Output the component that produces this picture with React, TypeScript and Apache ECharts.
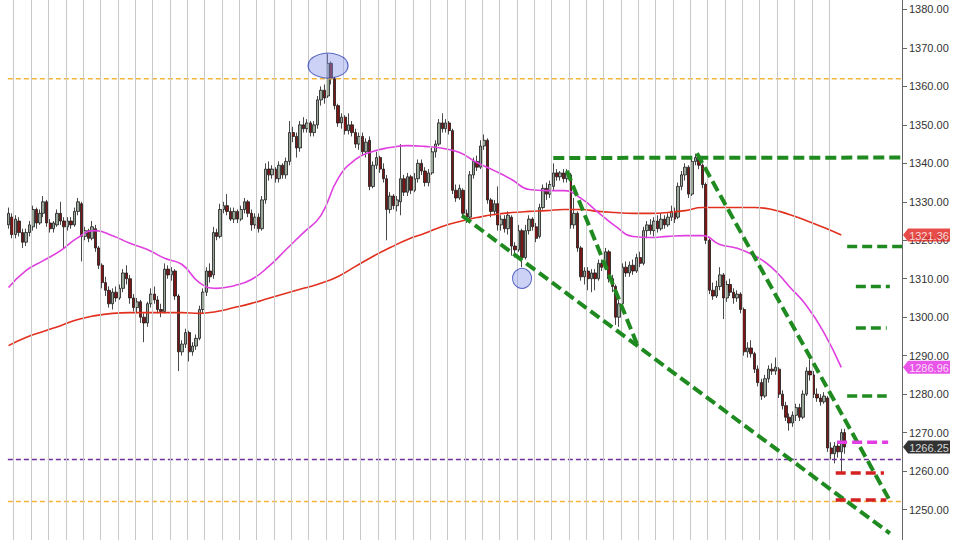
import React, { useEffect, useRef } from "react";
import * as echarts from "echarts";

// ---------- data ----------
const TOTAL_SLOTS = 258; // candle slots incl. empty space before the price axis
const categories = Array.from({ length: TOTAL_SLOTS }, (_, i) => `bar${i}`);

// [open, close, low, high]
const candles: number[][] = [
  [1324,1327,1323,1328.5],[1326,1321.5,1320.5,1327],[1321.5,1325.5,1320.5,1326.5],[1325,1322,1321,1326],[1322,1319.5,1318,1323],
  [1319.5,1322,1318.5,1323],[1322,1324,1321,1325],[1323.5,1328,1322.5,1329],[1328,1324.5,1323,1328.5],[1324.5,1327,1324,1328],
  [1327,1330,1326,1331.5],[1330,1324.5,1323.5,1330.5],[1324.5,1323,1322,1325.5],[1323,1324.5,1322,1325],[1324,1327,1323.5,1328],
  [1327,1325,1324,1330],[1325,1323.5,1318,1326],[1323.5,1325,1322.5,1326],[1325,1324,1323,1326],[1324,1327.5,1323.5,1328.5],
  [1327.5,1330,1326.5,1331],[1329.5,1321,1314.5,1330],[1321,1322.5,1320,1323.5],[1322.5,1320.5,1319.5,1323],[1320.5,1323.5,1320,1325],
  [1323,1318,1317,1324],[1318,1313.5,1312.5,1318.5],[1313.5,1309,1307.5,1314],[1309,1307,1305.5,1310.5],[1307,1303.5,1302.5,1308],
  [1303.5,1306.5,1302,1307.5],[1306.5,1305,1304,1308],[1305,1307.5,1304.5,1308.5],[1307.5,1311.5,1306.5,1312.5],[1311.5,1310,1308.5,1313.5],
  [1310,1305,1303.5,1311],[1305,1302.5,1301.5,1306],[1302.5,1304,1301,1305],[1304,1300,1298.5,1304.5],[1300,1298.5,1293.5,1301],
  [1298.5,1303.5,1297.5,1304],[1303.5,1306,1302.5,1307.5],[1306,1304.5,1303.5,1308],[1304.5,1302,1301,1305.5],[1302,1301.5,1300,1303.5],
  [1301.5,1312.5,1301,1314],[1312.5,1311,1310,1313.5],[1311,1312,1309.5,1313],[1312,1305.5,1304.5,1312.5],[1305.5,1291,1286,1306],
  [1291,1293,1290,1294],[1293,1296,1292,1297],[1296,1291,1288.5,1296.5],[1291,1292.5,1290,1293.5],[1292.5,1294.5,1291.5,1295.5],
  [1294.5,1302,1294,1303],[1302,1306.5,1301,1307.5],[1306.5,1312,1305.5,1313],[1312,1310.5,1309,1314],[1311,1322,1310,1323.5],
  [1322,1321,1320,1323],[1321,1328,1320.5,1329.5],[1328,1329,1327,1330],[1329,1327.5,1326.5,1332],[1327.5,1325.5,1325,1328.5],
  [1325.5,1327.5,1324.5,1328.5],[1327.5,1325.5,1324.5,1328],[1325.5,1328,1325,1329],[1328,1330,1327,1331],[1330,1327,1326,1330.5],
  [1327,1324,1322.5,1328],[1324,1326,1323,1327],[1326,1323,1322,1327],[1323,1330.5,1322.5,1331.5],[1330.5,1338.5,1329.5,1340],
  [1338.5,1337,1335.5,1340.5],[1337,1338.5,1336,1339.5],[1338.5,1336,1335,1339],[1336,1339.5,1335,1340.5],[1339.5,1337,1336,1340],
  [1337,1340.5,1336,1341.5],[1340.5,1348,1339.5,1351],[1348,1347,1345.5,1349.5],[1347,1344,1341.5,1348],[1344,1350,1343,1351],
  [1350,1349,1348,1352],[1349,1350.5,1348,1351.5],[1350.5,1348,1347,1351],[1348,1350,1347,1351],[1350,1356.5,1349,1357.5],
  [1356.5,1359,1355,1360],[1359,1357,1355.5,1360.5],[1357.5,1366,1357,1368.5],[1366,1362,1360.5,1366.5],[1362,1355,1354,1362.5],
  [1355,1350.5,1349.5,1355.5],[1350.5,1352,1349,1353],[1352,1348.5,1347.5,1352.5],[1348.5,1350,1347.5,1353],[1350,1348,1347,1351],
  [1348,1345,1344,1349],[1345,1347,1343.5,1348],[1347,1343,1342,1348],[1343,1345.5,1341.5,1346.5],[1346,1334,1333,1347],
  [1334,1339.5,1333.5,1340.5],[1339.5,1341.5,1338.5,1343],[1341.5,1338.5,1337.5,1342],[1338.5,1336,1335,1340],[1336,1328,1320,1337],
  [1328,1331.5,1327,1332.5],[1331.5,1329,1328,1332],[1329,1330.5,1327.5,1331.5],[1330,1336,1326.5,1345],[1336,1332.5,1331.5,1337],
  [1332.5,1336.5,1331.5,1337.5],[1336.5,1333,1332,1337],[1333,1336,1332.5,1337.5],[1336,1340,1335,1341],[1340,1338,1337,1341],
  [1338,1335,1334,1339],[1335,1337.5,1334,1338.5],[1337.5,1343,1337,1344],[1343,1345,1341.5,1346],[1345,1350.5,1344.5,1351.5],
  [1350.5,1349,1348,1353],[1349,1350.5,1348,1351.5],[1350.5,1348.5,1347.5,1351],[1348.5,1333,1332,1349],[1333,1331,1330,1334.5],
  [1331,1333.5,1330.5,1334.5],[1333,1327,1326,1333.5],[1327,1326,1324.5,1328],[1326,1337,1325.5,1338],[1337,1340.5,1336,1341.5],
  [1340.5,1339,1338,1342],[1339,1344.5,1338.5,1346],[1344.5,1346,1343.5,1347.5],[1346,1330.5,1329.5,1346.5],[1330.5,1327.5,1326,1331],
  [1327.5,1329.5,1326.5,1330.5],[1329.5,1324,1322.5,1334],[1324,1325.5,1322.5,1326.5],[1325.5,1323,1322,1326.5],[1323,1326.5,1321.5,1327.5],
  [1326,1318.5,1316,1326.5],[1318.5,1317.5,1315.5,1319.5],[1317.5,1322.5,1317,1324],[1322.5,1315.5,1313,1323],[1315.5,1322.5,1315,1324],
  [1322.5,1325.5,1321.5,1326.5],[1325.5,1323.5,1322.5,1326],[1323.5,1320.5,1319.5,1324.5],[1321,1328.5,1320.5,1329.5],[1328.5,1333.5,1328,1334.5],
  [1333.5,1332,1330.5,1335],[1332,1334.5,1331,1335.5],[1334,1337.5,1333,1340],[1337.5,1336.5,1335.5,1338.5],[1336.5,1337.5,1335.5,1338],
  [1337.5,1336,1335,1338.5],[1336,1337.5,1335,1338.5],[1337,1324,1323,1337.5],[1324,1327,1323,1331],[1327,1318,1317,1327.5],
  [1318,1310.5,1309.5,1318.5],[1310.5,1312,1308.5,1313],[1312,1310,1307,1313],[1310,1311.5,1306.5,1312.5],[1311.5,1310,1307,1312.5],
  [1310,1314,1309.5,1315],[1314,1313,1312,1315],[1313,1317,1312.5,1318],[1317,1310,1309,1317.5],[1310,1308,1306.5,1311],
  [1308,1300,1298,1308.5],[1300,1303.5,1297.5,1304.5],[1303.5,1313,1303,1314],[1313,1311.5,1310.5,1314.5],[1311.5,1313.5,1310.5,1314.5],
  [1313.5,1312,1311,1315],[1312,1315.5,1311.5,1316.5],[1315.5,1314,1313,1317],[1314,1322.5,1313.5,1323.5],[1322.5,1324,1320.5,1325],
  [1324,1322.5,1321.5,1325.5],[1322.5,1325,1321,1326],[1325,1323,1322,1326.5],[1323,1325.5,1322.5,1327],[1325.5,1324,1323,1326.5],
  [1324,1326,1323.5,1327],[1326,1327.5,1325,1329],[1327.5,1325.5,1324.5,1328.5],[1326,1334,1325.5,1335],[1334,1337,1333,1338],
  [1337,1339,1335.5,1340],[1339,1332,1331,1339.5],[1332,1340.5,1331.5,1341.5],[1340.5,1341.5,1339.5,1342.5],[1341.5,1339.5,1338.5,1342.5],
  [1339.5,1334.5,1333.5,1340],[1334.5,1320,1319,1335],[1320,1307,1306,1320.5],[1307,1305.5,1304.5,1309],[1305.5,1308,1305,1309.5],
  [1308,1311,1307,1313],[1311,1305,1299.5,1311.5],[1305,1308.5,1304,1309.5],[1308.5,1306.5,1305.5,1310],[1306.5,1305,1303.5,1307.5],
  [1305,1306,1304,1307],[1306,1302,1301,1306.5],[1302,1291,1290,1302.5],[1291,1292,1289.5,1293.5],[1292,1290.5,1289.5,1294],
  [1290.5,1286.5,1285.5,1291],[1286.5,1283,1282,1287.5],[1283,1279.5,1278.5,1284],[1279.5,1284,1279,1285],[1284,1286.5,1283,1287.5],
  [1286.5,1286,1285,1288],[1286,1287,1285,1289.5],[1286.5,1280,1279,1287],[1280,1277,1276,1281],[1277,1274,1273,1278],
  [1274,1272.5,1270.5,1275],[1272.5,1274.5,1271.5,1275.5],[1274.5,1276.5,1273,1277.5],[1276.5,1274,1273,1277.5],[1274,1280,1273.5,1281],
  [1280,1286,1279.5,1287],[1286,1285,1283.5,1289],[1285,1280,1279,1286],[1280,1279,1278,1281.5],[1279,1278,1277,1280],
  [1278,1279.5,1277.5,1280.5],[1279,1266,1265,1279.5],[1266,1264.5,1263,1267.5],[1264.5,1266.5,1262,1267.5],[1266.5,1265,1263.5,1267.5],
  [1265,1270,1259.5,1271],[1270,1266.25,1264.5,1271],
];

// moving averages, one reading every MA_STEP candles
const MA_STEP = 5;
const maFast = [
  1307.7, 1312.1, 1314.7, 1317.3, 1320.7, 1322.5, 1321.2, 1319.2, 1317.6, 1315.3,
  1313.7, 1309.0, 1307.5, 1308.2, 1309.8, 1313.2, 1317.6, 1322.0, 1326.4, 1336.1,
  1341.0, 1343.1, 1344.1, 1344.6, 1344.4, 1343.9, 1342.8, 1340.2, 1338.1, 1335.8,
  1333.2, 1332.9, 1332.9, 1330.9, 1327.2, 1323.6, 1321.0, 1320.7, 1321.0, 1321.2,
  1321.2, 1318.9, 1317.9, 1316.0, 1312.9, 1308.0, 1303.0, 1296.0, 1286.96,
];
const maSlow = [
  1292.6, 1294.7, 1296.3, 1297.8, 1299.4, 1300.4, 1301.0, 1301.2, 1301.2, 1301.2,
  1301.2, 1301.0, 1301.5, 1302.5, 1303.6, 1304.9, 1306.2, 1307.5, 1308.8, 1310.6,
  1313.2, 1315.8, 1318.1, 1320.2, 1321.8, 1323.6, 1324.9, 1325.9, 1326.7, 1327.2,
  1327.5, 1327.7, 1328.0, 1328.0, 1327.5, 1327.2, 1327.0, 1327.0, 1327.2, 1327.7,
  1328.5, 1328.5, 1328.5, 1328.5, 1328.0, 1326.7, 1325.1, 1323.3, 1321.36,
];

// price axis (labels shown from 1250.00 to 1380.00)
const yMin = 1240;
const yMax = 1390;
const yStep = 10;

// vertical session separators: every SESSION_BARS bars, first one before bar FIRST_SESSION_BAR
const SESSION_BARS = 5;
const FIRST_SESSION_BAR = 2;
const SESSION_COUNT = 48;

// full-width reference levels
const refLevels = [
  { value: 1362.0, color: "#f2b53a" },
  { value: 1263.0, color: "#6d2f9a" },
  { value: 1252.1, color: "#f2b53a" },
];

// trend lines: [barIndex, price] pairs
const trendLines = [
  [[157, 1341.4], [257.5, 1341.5]],
  [[130.7, 1326.4], [254.0, 1243.8]],
  [[160.9, 1338.1], [181.4, 1292.4]],
  [[198.4, 1342.6], [254.0, 1252.3]],
];

// short target dashes on the right
const targetMarks = [
  { from: 241.7, to: 257.5, value: 1318.4, color: "#1f8a1f" },
  { from: 244.2, to: 254.0, value: 1308.0, color: "#1f8a1f" },
  { from: 244.2, to: 253.1, value: 1297.2, color: "#1f8a1f" },
  { from: 241.7, to: 253.1, value: 1279.5, color: "#1f8a1f" },
  { from: 238.8, to: 253.5, value: 1267.5, color: "#e23de2" },
  { from: 238.4, to: 252.3, value: 1259.5, color: "#d42222" },
  { from: 238.4, to: 253.0, value: 1252.5, color: "#d42222" },
];

// highlighted spots: [barIndex, price], size
const highlights = [
  { at: [92.1, 1365.4], size: [40, 25] },
  { at: [148, 1310.1], size: [19, 20] },
];

// last-value tags on the price axis
const priceTags = [
  { value: 1321.36, color: "#e0201c" },
  { value: 1286.96, color: "#e22ae2" },
  { value: 1266.25, color: "#000000" },
];

const FONT = "'Liberation Sans', Arial, sans-serif";
// the overlay bar axis is offset so that it never contains 0 (keeps axis lines off the plot)
const BAR_OFFSET = 1000;

export default function App() {
  const ref = useRef<HTMLDivElement>(null);

  useEffect(() => {
    document.body.style.margin = "0";
    if (!ref.current) return;
    const chart = echarts.init(ref.current, undefined, { renderer: "svg" });

    const shift = (pts: number[][]) => pts.map(([x, y]) => [x + BAR_OFFSET, y]);

    const lineSeries = (data: number[][], color: string, width: number, dash: any, z: number, smooth = false) => ({
      type: "line",
      xAxisIndex: 1,
      yAxisIndex: 0,
      data: shift(data),
      smooth,
      symbol: "none",
      showSymbol: false,
      silent: true,
      clip: false,
      z,
      lineStyle: { color, width, type: dash, cap: "butt" },
    });

    const separators = Array.from({ length: SESSION_COUNT }, (_, k) => ({
      xAxis: FIRST_SESSION_BAR + k * SESSION_BARS - 0.5 + BAR_OFFSET,
    }));

    const series: any[] = [
      {
        type: "line",
        xAxisIndex: 1,
        yAxisIndex: 0,
        data: [],
        silent: true,
        z: 1,
        markLine: {
          silent: true,
          symbol: "none",
          precision: 3,
          label: { show: false },
          lineStyle: { color: "#c9c9c9", width: 1, type: "solid" },
          data: separators,
        },
      },
      {
        type: "candlestick",
        xAxisIndex: 0,
        yAxisIndex: 0,
        data: candles,
        barWidth: 3,
        silent: true,
        z: 2,
        itemStyle: {
          color: "#9aa89a",
          color0: "#7a1616",
          borderColor: "#1b1b1b",
          borderColor0: "#1b1b1b",
          borderWidth: 0.8,
        },
      },
      lineSeries(maSlow.map((v, i) => [i * MA_STEP, v]), "#e2301f", 1.6, "solid", 3, true),
      lineSeries(maFast.map((v, i) => [i * MA_STEP, v]), "#e03fe0", 1.6, "solid", 3, true),
      ...refLevels.map((l) =>
        lineSeries([[-2.5, l.value], [TOTAL_SLOTS - 0.5, l.value]], l.color, 1.5, [5, 3], 4)
      ),
      ...trendLines.map((t) => lineSeries(t, "#1f8a1f", 4, [11, 5], 5)),
      ...targetMarks.map((m) =>
        lineSeries([[m.from, m.value], [m.to, m.value]], m.color, 3.5, [10, 5], 5)
      ),
      {
        type: "scatter",
        xAxisIndex: 1,
        yAxisIndex: 0,
        silent: true,
        clip: false,
        z: 6,
        symbol: "circle",
        data: highlights.map((h) => ({ value: [h.at[0] + BAR_OFFSET, h.at[1]], symbolSize: h.size })),
        itemStyle: { color: "rgba(140,150,235,0.55)", borderColor: "#3445b5", borderWidth: 1 },
      },
      {
        type: "scatter",
        xAxisIndex: 1,
        yAxisIndex: 0,
        silent: true,
        clip: false,
        z: 10,
        symbol: "path://M0,6 L5,0 L46,0 L46,12 L5,12 Z",
        symbolSize: [47, 13],
        symbolKeepAspect: false,
        symbolOffset: [24.5, 0],
        data: priceTags.map((t) => ({
          value: [TOTAL_SLOTS - 0.5 + BAR_OFFSET, t.value],
          itemStyle: { color: t.color },
          label: {
            show: true,
            formatter: t.value.toFixed(2),
            position: "inside",
            offset: [2.5, 0.5],
            color: "#ffffff",
            fontSize: 11,
            fontFamily: FONT,
          },
        })),
      },
    ];

    chart.setOption({
      animation: false,
      backgroundColor: "#ffffff",
      textStyle: { fontFamily: FONT },
      grid: { left: 6.8, right: 58, top: 0, bottom: 0, containLabel: false, outerBoundsMode: "none", show: false },
      xAxis: [
        {
          type: "category",
          data: categories,
          show: false,
          boundaryGap: true,
          axisLine: { show: false, onZero: false },
          axisTick: { show: false },
          axisLabel: { show: false },
          splitLine: { show: false },
        },
        {
          type: "value",
          min: -0.5 + BAR_OFFSET,
          max: TOTAL_SLOTS - 0.5 + BAR_OFFSET,
          show: false,
          axisLine: { show: false, onZero: false },
          splitLine: { show: false },
        },
      ],
      yAxis: {
        type: "value",
        position: "right",
        min: yMin,
        max: yMax,
        interval: yStep,
        axisLine: { show: true, onZero: false, lineStyle: { color: "#666666", width: 1 } },
        axisTick: { show: true, length: 5, lineStyle: { color: "#666666" } },
        axisLabel: {
          showMinLabel: false,
          showMaxLabel: false,
          formatter: (v: number) => (v <= yMin || v >= yMax ? "" : v.toFixed(2)),
          color: "#333333",
          fontSize: 11,
          margin: 7,
          fontFamily: FONT,
        },
        splitLine: { show: false },
        splitArea: { show: false },
      },
      series,
    });

    return () => chart.dispose();
  }, []);

  return (
    <div style={{ position: "relative", width: 960, height: 540, overflow: "hidden", background: "#fff" }}>
      <div ref={ref} style={{ position: "absolute", left: 0, top: -29.5, width: 960, height: 577 }} />
    </div>
  );
}
